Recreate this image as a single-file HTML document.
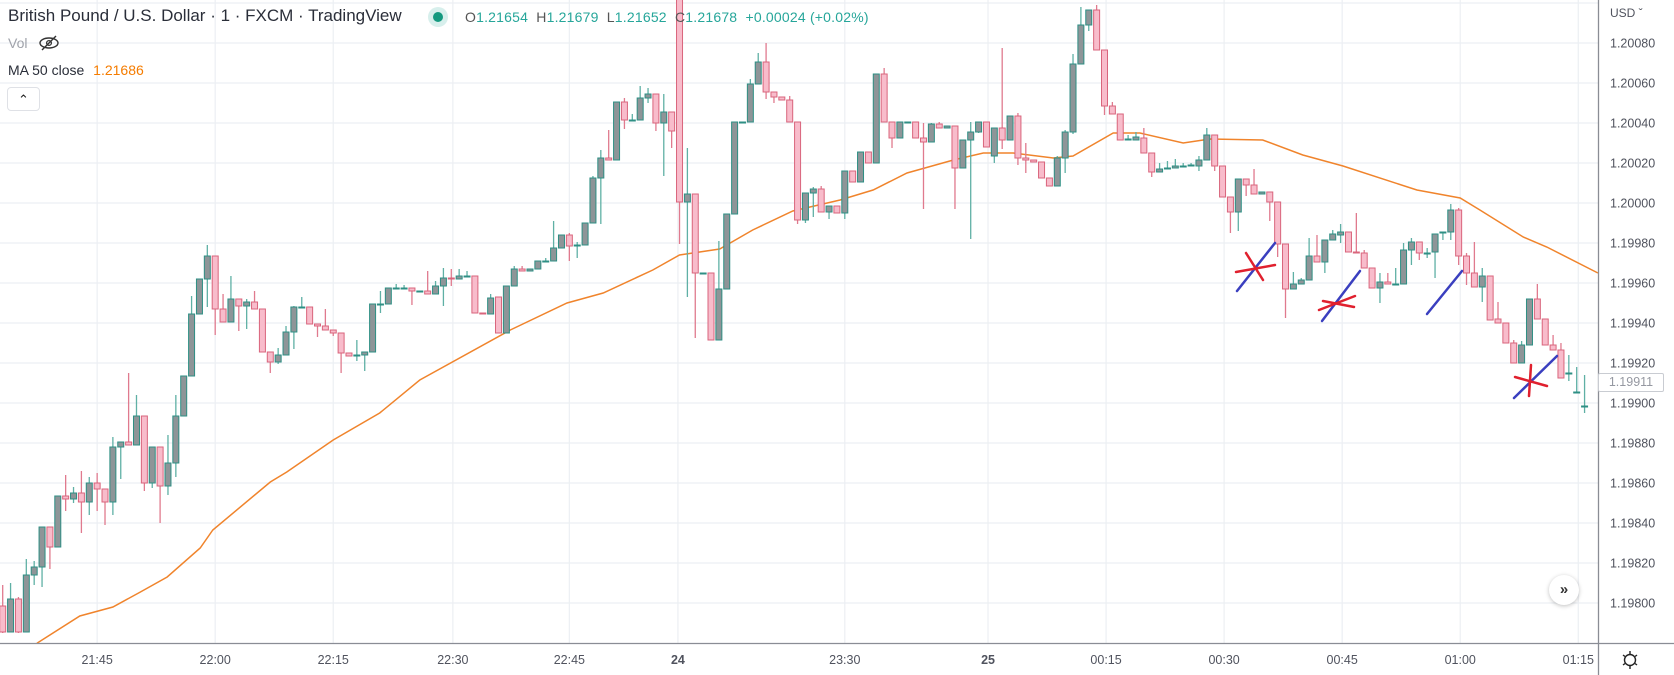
<!DOCTYPE html>
<html><head><meta charset="utf-8">
<style>
html,body{margin:0;padding:0;background:#fff;}
body{width:1674px;height:675px;overflow:hidden;position:relative;font-family:"Liberation Sans",sans-serif;}
svg{position:absolute;left:0;top:0;}
.hdr{position:absolute;white-space:nowrap;}
</style></head>
<body>
<svg id="chart" width="1674" height="675">
  <g id="grid"></g>
  <g id="ma"></g>
  <g id="candles"></g>
  <g id="annot"></g>
  <g id="axes"></g>
</svg>

<div class="hdr" style="left:8px;top:6px;font-size:17px;color:#2a2e39;">British Pound / U.S. Dollar · 1 · FXCM · TradingView</div>
<div class="hdr" style="left:428px;top:7px;width:20px;height:20px;border-radius:50%;background:#d7efec;"></div>
<div class="hdr" style="left:433px;top:12px;width:10px;height:10px;border-radius:50%;background:#14997f;"></div>
<div class="hdr" style="left:465px;top:9px;font-size:14px;color:#26a69a;letter-spacing:0.2px;">
<span style="color:#555">O</span>1.21654 &nbsp;<span style="color:#555">H</span>1.21679 &nbsp;<span style="color:#555">L</span>1.21652 &nbsp;<span style="color:#555">C</span>1.21678 &nbsp;+0.00024 (+0.02%)</div>
<div class="hdr" style="left:8px;top:35px;font-size:14px;color:#a0a3ab;">Vol</div>
<svg style="left:38px;top:34px;" width="22" height="18"><ellipse cx="11" cy="9" rx="9" ry="5" fill="none" stroke="#333" stroke-width="1.4"/><circle cx="11" cy="9" r="2.4" fill="none" stroke="#333" stroke-width="1.3"/><line x1="4" y1="16" x2="18" y2="2" stroke="#333" stroke-width="1.4"/></svg>
<div class="hdr" style="left:8px;top:62px;font-size:14px;color:#2a2e39;">MA 50 close <span style="color:#f57c00;margin-left:5px;">1.21686</span></div>
<div class="hdr" style="left:7px;top:87px;width:31px;height:22px;border:1px solid #dfe1e6;border-radius:4px;background:#fff;text-align:center;font-size:13px;line-height:24px;color:#222;">&#8963;</div>
<div class="hdr" style="left:1610px;top:6px;font-size:12px;color:#50535e;">USD &#711;</div>
<div class="hdr" style="left:1549px;top:575px;width:30px;height:30px;border-radius:50%;background:#fff;box-shadow:0 1px 4px rgba(0,0,0,0.25);text-align:center;line-height:29px;font-size:15px;font-weight:bold;color:#333;">»</div>
<div class="hdr" style="left:1598px;top:373px;width:64px;height:17px;border:1px solid #c9ccd2;border-radius:2px;background:#fff;font-size:12.5px;color:#9598a1;line-height:17px;text-align:center;">1.19911</div>
<svg style="left:1620px;top:650px;" width="20" height="20"><circle cx="10" cy="10" r="5.5" fill="none" stroke="#222" stroke-width="1.4"/><g stroke="#222" stroke-width="1.4"><line x1="10" y1="1" x2="10" y2="4"/><line x1="10" y1="16" x2="10" y2="19"/><line x1="3" y1="5" x2="5" y2="6.5"/><line x1="15" y1="13.5" x2="17" y2="15"/><line x1="3" y1="15" x2="5" y2="13.5"/><line x1="15" y1="6.5" x2="17" y2="5"/></g></svg>

<script>
// ---- data (prices as points above base 1.19800, 1 point = 0.00001) ----
const basePrice = 1.198;
const openPts = [-1.5,-14.5,2,-14.5,14,18,38,28,53.5,52,55,50.5,60,57,50.5,78,80.5,79,93.5,60,78,58.5,70,93.5,113.5,144.5,162,173.5,147,140.5,152,148.5,150.5,147,125.5,120.5,124,135.5,147.5,148,139.5,138.5,136.5,135,125,123.5,124,125.5,149,149.5,157,157,157.5,155.5,156,154.5,158.5,162.5,162,163,163.5,145,144.5,153,135,158.5,167,166,167,170.5,171,177.5,184,178.5,179,190,212.5,222.5,221.5,250.5,241,241.5,252.5,254.5,240,245.5,311.5,200.5,204.5,164.5,165,131.5,157,194.5,240,240.5,259.5,270.5,255.5,253,251.5,240.5,191.5,205,207,195.5,198.5,195,216,210.5,225.5,220,264.5,240.5,232.5,240,240.5,232.5,230.5,239.5,237.5,238.5,217.5,231.5,235.5,240.5,223.5,237.5,231.5,243.5,222.5,221.5,220.5,212.5,208.5,222.5,235.5,269.5,289,296.5,276.5,248.5,244.5,231.5,231.5,232.5,225,215.5,217,217.5,218,218.5,218.5,221.5,234,218.5,203,195.5,212,209,204.5,205.5,200.5,179.5,157,159.5,161.5,173.5,170.5,181.5,184,185.5,175.5,175,167.5,157.5,160.5,159,159.5,176.5,180.5,174.5,175.5,185,185.5,196.5,173.5,165,158,163.5,142,140,130,120,129,152,142,129,126.5,115,105.5,98.5];
const highPts = [9,10,3,22,21,38,38,53.5,64,58,66,63,65,57,83,80.5,115,104,93.5,78,78,84,104,113.5,153.5,162,179,173.5,154.5,163.5,152,152,156,147,125.5,127.5,138.5,148.5,153,148,139.5,147,136.5,135,125,131.5,125.5,149.5,156,157.5,159.5,159,157.5,156,166,161,167.5,167,167,166,163.5,145,154.5,153,158.5,168.5,168.5,167,171,172.5,191,184,185,180.5,190,213.5,226.5,236.5,250.5,252.5,244.5,258.5,257.5,254.5,254.5,245.5,311.5,227.5,204.5,165,165,181,194.5,240.5,240.5,262,275,280,255.5,253,253.5,240.5,205,208,208.5,198.5,198.5,216,216,225.5,225.5,264.5,267.5,240.5,240.5,240.5,240.5,240,240,240.5,238.5,238.5,231.5,240.5,240.5,240.5,237.5,277.5,243.5,245,230,221.5,220.5,212.5,223.5,236.5,274.5,298,296.5,299,276.5,250.5,244.5,234,235.5,237.5,225,220,221,222,220,220,223.5,237.5,234,218.5,203,212,212,217,205.5,205.5,200.5,179.5,165.5,162.5,182.5,184,181.5,186.5,189.5,185.5,195,176.5,167.5,165,165,167.5,180,182.5,180.5,177.5,184.5,185.5,199.5,197.5,175,180.5,167.5,163.5,150.5,140,131.5,131,152,159.5,142,134,130,124,118,114,110.5];
const lowPts = [-15,-14.5,-15,-14.5,9,8,17,28,46,50,35,44,46,39,44,62,79,79,56,57.5,40,54,63,93.5,113.5,144.5,148,134,140.5,140.5,136,137,147,125.5,115,119.5,124,127,147.5,139.5,133,136.5,133.5,115,123.5,121,116,125.5,145,149.5,157,157,149,155.5,154.5,154.5,148.5,158.5,162,163,145,144.5,144.5,135,135,158.5,166,166,167,170.5,171,177.5,171,172.5,179,190,189.5,221.5,221.5,237,241,241.5,250,236,213.5,227.5,179.5,153,132.5,164.5,131.5,131.5,157,194.5,240,240.5,259.5,252,250,251.5,240.5,189.5,190,193,195.5,192,195,192,210.5,210.5,220,220,240.5,227.5,232.5,240,232.5,197,230.5,237.5,237.5,197,217.5,182,235,228,220,227,231.5,219,215,220.5,212.5,208.5,208.5,215,234.5,269.5,286,276.5,244,244.5,231.5,231.5,231.5,225,213,215.5,217,217.5,218,218.5,216,221.5,216,203,185,186,203.5,204.5,204.5,191,173,142.5,157,159.5,161.5,170.5,165,181.5,180,175.5,175,167.5,157.5,150,159.5,159,159.5,169,171.5,172.5,162.5,181.5,181.5,169,159,158,150.5,141.5,140,130,120,120,129,142,129,126.5,112.5,111,105.5,95,92.5];
const closePts = [-14.5,2,-14.5,14,18,38,28,53.5,52,55,50.5,60,57,50.5,78,80.5,79,93.5,60,78,58.5,70,93.5,113.5,144.5,162,173.5,147,140.5,152,148.5,150.5,147,125.5,120.5,124,135.5,148,148,139.5,138.5,136.5,135,125,123.5,124,125.5,149.5,149.5,157.5,157.5,157.5,156,156,154.5,158.5,162.5,162,163.5,163.5,145,144.5,152.5,135,158.5,167,166,167,171,171,177.5,184,178.5,179,190,212.5,222.5,221.5,250.5,241.5,241.5,252.5,254.5,240,245.5,236,200.5,204.5,165,165,131.5,157,194.5,240.5,240.5,259.5,270.5,255.5,253,251.5,240.5,191.5,205,207,195.5,198.5,195,216,210.5,225.5,220,264.5,240.5,232.5,240.5,240.5,232.5,230.5,239.5,237.5,238.5,217.5,231.5,235.5,240.5,228,237.5,231.5,243.5,222.5,221.5,220.5,212.5,208.5,222.5,235.5,269.5,289,296.5,276.5,248.5,244.5,231.5,232,233,225,215.5,217,217.5,218.5,218.5,219,221.5,234,218.5,203,195.5,212,209,204.5,205.5,200.5,179.5,157,159.5,161.5,173.5,170.5,181.5,184.5,185.5,175.5,175,167.5,157.5,160.5,159.5,159.5,176.5,180.5,175,175,184.5,185.5,196.5,173.5,165,158,163.5,141.5,140,130,120,129,152,142,129,126.5,112.5,115,105.5,98.5,110.5];
// MA 50 samples: candle index and value in points
const maIndex = [3.5,4.4,9.8,14,17.5,20.9,25.1,26.7,34,36.1,42,47.9,53,64.5,71.7,76.3,82.6,86,91.1,95.3,100.4,106.4,110.6,114.9,120.8,124.6,128.4,133.5,136,141.1,144.5,150,153.4,160.1,165.2,170.3,179.7,185.2,187.7,193.2,196.2,202.7];
const maPts = [-26,-20,-6.5,-2,5.5,13,27.5,36.5,60.5,65.5,81.5,95,111.5,136.5,150,155,166.5,174,177,186.5,196,201.5,206.5,215,221.5,225,225,222.5,223.5,235,235,230,232,231.5,224,218.5,206.5,202.5,196.5,183,178,165];
const priceTicks = ["1.20080","1.20060","1.20040","1.20020","1.20000","1.19980","1.19960","1.19940","1.19920","1.19900","1.19880","1.19860","1.19840","1.19820","1.19800"];
const gridPrices = [1.201,1.2008,1.2006,1.2004,1.2002,1.2,1.1998,1.1996,1.1994,1.1992,1.199,1.1988,1.1986,1.1984,1.1982,1.198];
const timeLabels = ["21:45","22:00","22:15","22:30","22:45","24","23:30","25","00:15","00:30","00:45","01:00","01:15"];
const timeSlots = [12,27,42,57.2,72,85.8,107,125.2,140.2,155.2,170.2,185.2,200.2];
const boldLabels = ["24","25"];

// ---- scales ----
const PLOT_R = 1598, PLOT_B = 643;
function xOf(i){ return 2.7 + i*7.87; }
function yPrice(p){ return 203 + (1.2 - p)*200000; }
function yPts(v){ return yPrice(basePrice + v/100000); }

const NS = "http://www.w3.org/2000/svg";
function mk(tag, attrs, parent){ const e=document.createElementNS(NS,tag); for(const k in attrs) e.setAttribute(k,attrs[k]); parent.appendChild(e); return e; }

const grid=document.getElementById('grid');
gridPrices.forEach(p=>{
  const l=mk('line',{x1:0,x2:PLOT_R,y1:yPrice(p),y2:yPrice(p),stroke:'#eceff3','stroke-width':1.2},grid);
  
  
});
timeSlots.forEach(s=>{
  const x=xOf(s);
  const l=mk('line',{x1:x,x2:x,y1:0,y2:PLOT_B,stroke:'#eceff3','stroke-width':1.2},grid);
  
  
});

// MA line
const maG=document.getElementById('ma');
let d='';
maIndex.forEach((ix,k)=>{ d+=(k?'L':'M')+xOf(ix).toFixed(1)+','+yPts(maPts[k]).toFixed(1); });
const clip=mk('clipPath',{id:'plotclip'},maG); mk('rect',{x:0,y:0,width:PLOT_R,height:PLOT_B},clip);
const maPath=mk('path',{d:d,fill:'none',stroke:'#f0842c','stroke-width':1.5,'clip-path':'url(#plotclip)'},maG);



// candles
const cg=document.getElementById('candles');
openPts.forEach((o,i)=>{
  const c=closePts[i], h=highPts[i], lo=lowPts[i];
  const up=c>=o;
  const x=xOf(i);
  const g=mk('g',{'clip-path':'url(#plotclip)'},cg);
  
  
  mk('line',{x1:x,x2:x,y1:yPts(h),y2:yPts(lo),stroke:up?'#5fb0a5':'#e07a8e','stroke-width':1.3},g);
  const top=yPts(Math.max(o,c)), bot=yPts(Math.min(o,c));
  mk('rect',{x:x-3,y:top,width:6,height:Math.max(bot-top,1),fill:up?'#8e9598':'#f8bccb',stroke:up?'#2e8f84':'#d9657c','stroke-width':1},g);
});

// hand-drawn annotations
const an=document.getElementById('annot');
const blueLines=[[1237,291,1275,243],[1322,321,1360,271],[1427,314,1462,271],[1514,398,1557,356]];
const redLines=[[1236,272,1275,265],[1246,253,1263,280],[1319,310,1355,296],[1323,301,1354,307],[1515,377,1547,386],[1531,365,1529,396]];
blueLines.forEach(s=>{ const l=mk('line',{x1:s[0],y1:s[1],x2:s[2],y2:s[3],stroke:'#3a3fbf','stroke-width':2.5,'stroke-linecap':'round'},an);
  
   });
redLines.forEach(s=>{ const l=mk('line',{x1:s[0],y1:s[1],x2:s[2],y2:s[3],stroke:'#e0202e','stroke-width':2.5,'stroke-linecap':'round'},an);
  
   });

// axes
const ax=document.getElementById('axes');
mk('line',{x1:0,x2:1674,y1:PLOT_B+0.5,y2:PLOT_B+0.5,stroke:'#8a8d95','stroke-width':1.3},ax);
mk('line',{x1:PLOT_R+0.5,x2:PLOT_R+0.5,y1:0,y2:675,stroke:'#8a8d95','stroke-width':1.3},ax);
priceTicks.forEach(t=>{
  const tx=mk('text',{x:1610,y:yPrice(parseFloat(t))+4.5,'font-size':12.5,fill:'#50535e','font-family':'Liberation Sans, sans-serif'},ax);
  tx.textContent=t;
  
  
});
timeLabels.forEach((t,k)=>{
  const tx=mk('text',{x:xOf(timeSlots[k]),y:664,'font-size':12.5,fill:'#50535e','text-anchor':'middle','font-weight':boldLabels.includes(t)?'bold':'normal','font-family':'Liberation Sans, sans-serif'},ax);
  tx.textContent=t;
  
  
});
</script>
</body></html>
